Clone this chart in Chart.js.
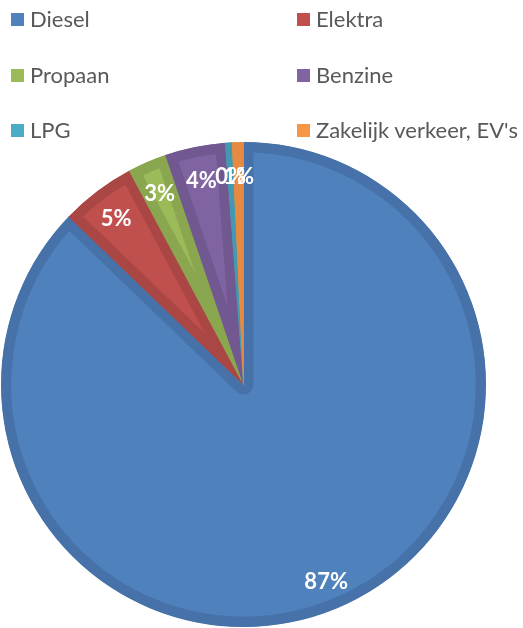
<!DOCTYPE html>
<html>
<head>
<meta charset="utf-8">
<script src="https://cdn.jsdelivr.net/npm/chart.js@4/dist/chart.umd.min.js"></script>
<style>
  html, body { margin: 0; padding: 0; background: #ffffff; }
  #wrap { position: relative; width: 523px; height: 628px; overflow: hidden; }
  #chart { position: absolute; left: 0; top: 0; }
  .lg { position: absolute; font-family: Lato, "Open Sans", sans-serif; font-size: 22px; color: #595959; white-space: nowrap; line-height: 22px; }
  .lg span.sw { position: absolute; width: 13px; height: 13px; left: 0; top: 5px; }
  .lg span.tx { position: absolute; left: 19px; top: 0; }
</style>
</head>
<body>
<div id="wrap">
  <canvas id="chart" width="523" height="628"></canvas>
</div>
<script>
// ---- data ----
const categories = ["Diesel", "Elektra", "Propaan", "Benzine", "LPG", "Zakelijk verkeer, EV's"];
const values = [87.1, 5.0, 2.6, 4.0, 0.45, 0.75];
const fillColors = ["#4F81BD", "#C0504D", "#9BBB59", "#8064A2", "#4BACC6", "#F79646"];
const edgeColors = ["#4672A9", "#AA4744", "#8AA750", "#715890", "#4299B1", "#E58A40"];

// ---- legend (two columns, HTML) ----
const wrap = document.getElementById('wrap');
const colX = [11, 297];
const rowY = [8, 64, 119];
categories.forEach((name, i) => {
  const d = document.createElement('div');
  d.className = 'lg';
  d.style.left = colX[i % 2] + 'px';
  d.style.top = rowY[Math.floor(i / 2)] + 'px';
  const sw = document.createElement('span');
  sw.className = 'sw';
  sw.style.background = fillColors[i];
  const tx = document.createElement('span');
  tx.className = 'tx';
  tx.textContent = name;
  d.appendChild(sw);
  d.appendChild(tx);
  wrap.appendChild(d);
});

// ---- percentage labels plugin ----
const pctLabels = {
  id: 'pctLabels',
  afterDatasetsDraw(chart) {
    const ctx = chart.ctx;
    const meta = chart.getDatasetMeta(0);
    const data = chart.data.datasets[0].data;
    const total = data.reduce((a, b) => a + b, 0);
    ctx.save();
    ctx.font = 'bold 22px Lato, "Open Sans", sans-serif';
    ctx.fillStyle = '#ffffff';
    ctx.textAlign = 'center';
    ctx.textBaseline = 'middle';
    meta.data.forEach((arc, i) => {
      const p = arc.getProps(['x', 'y', 'startAngle', 'endAngle', 'outerRadius'], true);
      const mid = (p.startAngle + p.endAngle) / 2;
      const r = p.outerRadius * 0.87;
      const txt = Math.round(data[i] / total * 100) + '%';
      ctx.fillText(txt, p.x + Math.cos(mid) * r, p.y + Math.sin(mid) * r + 3);
    });
    ctx.restore();
  }
};

new Chart(document.getElementById('chart'), {
  type: 'pie',
  data: {
    labels: categories,
    datasets: [{
      data: values,
      backgroundColor: fillColors,
      borderColor: edgeColors,
      borderWidth: 10,
      hoverBorderWidth: 10,
      borderAlign: 'inner'
    }]
  },
  options: {
    responsive: false,
    animation: false,
    events: [],
    layout: { padding: { left: 1, right: 37, top: 142, bottom: 1 } },
    plugins: {
      legend: { display: false },
      tooltip: { enabled: false }
    }
  },
  plugins: [pctLabels]
});
</script>
</body>
</html>
